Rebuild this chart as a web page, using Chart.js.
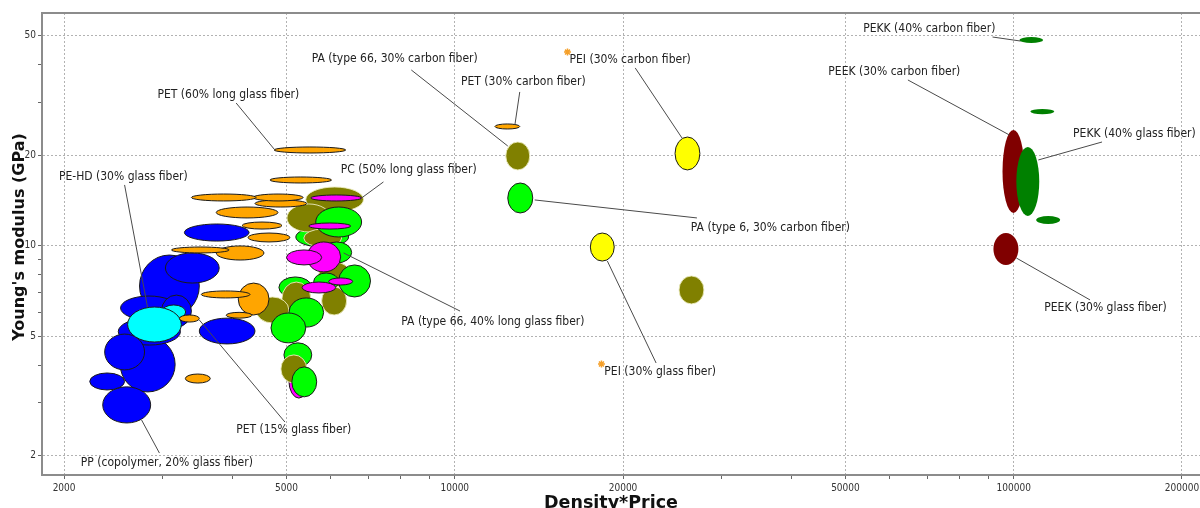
<!DOCTYPE html>
<html>
<head>
<meta charset="utf-8">
<script src="https://cdn.jsdelivr.net/npm/chart.js@4.4.0/dist/chart.umd.min.js"></script>
<style>
  html, body { margin: 0; padding: 0; background: #fff; overflow: hidden; }
  #wrap { position: absolute; left: 0; top: 0; width: 1220px; height: 508px; }
</style>
</head>
<body>
<div id="wrap"><canvas id="chart"></canvas></div>
<script>
// --- Données (chaque bulle : [prix*densité min, max, module min, max]) ---

const blueGroup = [
  [2729, 3491, 5.79, 9.31],
  [2520, 3160, 3.26, 4.97],
  [2500, 3230, 4.67, 5.74],
  [2345, 2857, 2.57, 3.39],
  [2364, 2786, 3.86, 5.08],
  [3491, 4391, 4.71, 5.74],
  [2524, 3190, 5.66, 6.80],
  [3036, 3789, 7.51, 9.46],
  [2987, 3379, 5.36, 6.85],
  [3283, 4285, 10.36, 11.81],
  [2223, 2566, 3.31, 3.77]
];
const cyanGroup = [
  [2990, 3300, 5.70, 6.35],
  [2598, 3242, 4.78, 6.25]
];
const magentaBack = [
  [5049, 5481, 3.11, 4.07]
];
const greenBack = [
  [5195, 6457, 9.90, 11.54],
  [4846, 5548, 6.70, 7.87],
  [4947, 5548, 3.95, 4.75]
];
const oliveGroup = [
  [5413, 6866, 12.95, 15.68],
  [5009, 5995, 11.11, 13.77],
  [5369, 6276, 9.90, 11.36],
  [5710, 6512, 7.29, 8.82],
  [4907, 5525, 5.88, 7.57],
  [5779, 6405, 5.88, 7.29],
  [4410, 5049, 5.53, 6.75],
  [4886, 5435, 3.49, 4.33],
  [12340, 13620, 17.87, 22.14],
  [25190, 27910, 6.40, 7.93]
];
const greenGroup = [
  [5639, 6813, 10.69, 13.45],
  [5779, 6539, 8.76, 10.29],
  [6199, 7067, 6.75, 8.63],
  [5593, 6199, 7.12, 8.11],
  [5049, 5826, 5.36, 6.70],
  [4690, 5413, 4.75, 5.97],
  [5111, 5662, 3.14, 3.95],
  [12440, 13790, 12.85, 16.17]
];
const magentaGroup = [
  [5525, 6813, 14.09, 14.75],
  [5481, 6512, 11.36, 11.90],
  [5435, 6250, 8.18, 10.29],
  [5000, 5779, 8.63, 9.68],
  [5331, 6123, 6.96, 7.57],
  [5949, 6565, 7.40, 7.81]
];
const orangeGroup = [
  [4098, 4652, 5.88, 7.51],
  [3520, 4302, 6.70, 7.07],
  [3900, 4337, 5.74, 6.00],
  [3216, 3491, 5.57, 5.88],
  [3296, 3652, 3.49, 3.74],
  [3743, 4556, 8.96, 9.98],
  [3112, 3948, 9.46, 9.90],
  [4268, 5069, 10.29, 11.02],
  [4164, 4907, 11.36, 11.99],
  [3743, 4827, 12.37, 13.45],
  [4391, 5434, 13.45, 14.20],
  [4355, 5354, 14.09, 14.86],
  [3379, 4409, 14.09, 14.86],
  [4670, 6020, 16.17, 16.93],
  [4750, 6380, 20.35, 21.31],
  [11800, 13070, 24.46, 25.42]
];
const yellowGroup = [
  [24780, 27450, 17.87, 23.0],
  [17480, 19290, 8.89, 11.02]
];
const peekGroup = [
  [95500, 104500, 12.85, 24.28],
  [92000, 101950, 8.63, 11.02]
];
const pekkGroup = [
  [101100, 111100, 12.56, 21.31],
  [102360, 112900, 47.3, 49.5],
  [107100, 118200, 27.4, 28.5],
  [109700, 121100, 11.81, 12.56]
];
const starPoints = [
  [15910, 44.1],
  [18300, 4.04]
];

// Étiquettes : texte, position du texte, début et fin du trait (coordonnées données)
const callouts = [
  ['PET (60% long glass fiber)', [2938, 31.75], [4063, 29.85], [4750, 20.98]],
  ['PE-HD (30% glass fiber)', [1958, 16.93], [2566, 15.93], [2820, 6.25]],
  ['PP (copolymer, 20% glass fiber)', [2143, 1.891], [2962, 2.041], [2752, 2.63]],
  ['PET (15% glass fiber)', [4063, 2.435], [4967, 2.589], [3491, 5.66]],
  ['PC (50% long glass fiber)', [6250, 17.86], [7454, 16.30], [6813, 14.42]],
  ['PA (type 66, 40% long glass fiber)', [8024, 5.57], [10220, 6.06], [6325, 9.46]],
  ['PA (type 66, 30% carbon fiber)', [5548, 41.83], [8360, 38.45], [12440, 21.47]],
  ['PET (30% carbon fiber)', [10260, 35.06], [13070, 32.49], [12810, 25.23]],
  ['PEI (30% carbon fiber)', [16045, 41.52], [21030, 39.05], [25500, 22.83]],
  ['PA (type 6, 30% carbon fiber)', [26450, 11.46], [27120, 12.37], [13900, 14.20]],
  ['PEI (30% glass fiber)', [18520, 3.80], [22920, 4.07], [18750, 8.89]],
  ['PEKK (40% carbon fiber)', [53780, 52.65], [91650, 49.5], [102780, 48.0]],
  ['PEEK (30% carbon fiber)', [46600, 37.86], [64670, 35.61], [98260, 23.36]],
  ['PEKK (40% glass fiber)', [127700, 23.54], [143900, 22.14], [110670, 19.29]],
  ['PEEK (30% glass fiber)', [113430, 6.20], [136950, 6.60], [101100, 9.10]]
];

const xTicks = [2000, 3000, 4000, 5000, 6000, 7000, 8000, 9000, 10000, 20000, 30000, 40000,
  50000, 60000, 70000, 80000, 90000, 100000, 200000];
const xTickLabels = [2000, 5000, 10000, 20000, 50000, 100000, 200000];
const yTicks = [2, 3, 4, 5, 6, 7, 8, 9, 10, 20, 30, 40, 50];
const yTickLabels = [2, 5, 10, 20, 50];

const xTitle = 'Density*Price';
const yTitle = "Young's modulus (GPa)";

// --- Mise en forme ---
const LABEL_FONT = '"DejaVu Sans Condensed", "Liberation Sans", sans-serif';
const TITLE_FONT = '"DejaVu Sans", sans-serif';
const DARK = '#1a1a1a';

function bubbles(rows, fill, stroke) {
  return {
    label: '',
    ranges: true,
    fill: fill,
    stroke: stroke,
    data: rows.map(([x0, x1, y0, y1]) => ({
      x: Math.sqrt(x0 * x1), y: Math.sqrt(y0 * y1), x0, x1, y0, y1
    })),
    pointRadius: 0
  };
}

const datasets = [
  bubbles(blueGroup, '#0000ff', DARK),
  bubbles(cyanGroup, '#00ffff', DARK),
  bubbles(magentaBack, '#ff00ff', DARK),
  bubbles(greenBack, '#00ff00', DARK),
  bubbles(oliveGroup, '#808000', 'rgba(235,235,190,0.9)'),
  bubbles(greenGroup, '#00ff00', DARK),
  bubbles(magentaGroup, '#ff00ff', DARK),
  bubbles(orangeGroup, '#ffa500', DARK),
  bubbles(yellowGroup, '#ffff00', DARK),
  bubbles(peekGroup, '#800000', null),
  bubbles(pekkGroup, '#008000', null),
  {
    label: '',
    data: starPoints.map(([x, y]) => ({x, y})),
    pointStyle: 'star',
    pointRadius: 3.5,
    borderColor: '#f5a02a',
    borderWidth: 1.5,
    backgroundColor: '#f5a02a'
  }
];

// Dessin des ellipses, dans l'ordre des jeux de données
const ellipsePlugin = {
  id: 'ellipses',
  afterDatasetsDraw(chart) {
    const {ctx, chartArea: a, scales: {x, y}} = chart;
    ctx.save();
    ctx.beginPath();
    ctx.rect(a.left, a.top, a.right - a.left, a.bottom - a.top);
    ctx.clip();
    chart.data.datasets.forEach(ds => {
      if (!ds.ranges) return;
      ds.data.forEach(p => {
        const px0 = x.getPixelForValue(p.x0), px1 = x.getPixelForValue(p.x1);
        const py0 = y.getPixelForValue(p.y0), py1 = y.getPixelForValue(p.y1);
        ctx.beginPath();
        ctx.ellipse((px0 + px1) / 2, (py0 + py1) / 2, Math.abs(px1 - px0) / 2, Math.abs(py1 - py0) / 2, 0, 0, Math.PI * 2);
        ctx.fillStyle = ds.fill;
        ctx.fill();
        if (ds.stroke) {
          ctx.lineWidth = 1;
          ctx.strokeStyle = ds.stroke;
          ctx.stroke();
        }
      });
    });
    ctx.restore();
  }
};

// Étiquettes avec traits de rappel
const calloutPlugin = {
  id: 'callouts',
  afterDatasetsDraw(chart) {
    const {ctx, scales: {x, y}} = chart;
    const pt = v => [x.getPixelForValue(v[0]), y.getPixelForValue(v[1])];
    ctx.save();
    ctx.strokeStyle = '#4a4a4a';
    ctx.lineWidth = 1;
    callouts.forEach(([, , from, to]) => {
      const a = pt(from), b = pt(to);
      ctx.beginPath();
      ctx.moveTo(a[0], a[1]);
      ctx.lineTo(b[0], b[1]);
      ctx.stroke();
    });
    ctx.font = '12px ' + LABEL_FONT;
    ctx.fillStyle = '#222';
    ctx.textBaseline = 'middle';
    ctx.textAlign = 'left';
    callouts.forEach(([text, at]) => {
      const p = pt(at);
      ctx.fillText(text, p[0], p[1]);
    });
    ctx.restore();
  }
};

// Titres des axes
const titlePlugin = {
  id: 'axisTitles',
  afterDraw(chart) {
    const {ctx} = chart;
    ctx.save();
    ctx.fillStyle = '#111';
    ctx.textAlign = 'center';
    ctx.textBaseline = 'alphabetic';
    ctx.font = 'bold 17.5px ' + TITLE_FONT;
    ctx.fillText(xTitle, 611, 508);
    ctx.font = 'bold 16px ' + TITLE_FONT;
    ctx.translate(24, 237);
    ctx.rotate(-Math.PI / 2);
    ctx.fillText(yTitle, 0, 0);
    ctx.restore();
  }
};

const gridColor = labels => c => (c.tick && labels.includes(c.tick.value)) ? '#b2b2b2' : 'rgba(0,0,0,0)';

new Chart(document.getElementById('chart'), {
  type: 'scatter',
  data: {datasets},
  options: {
    responsive: true,
    maintainAspectRatio: false,
    animation: false,
    events: [],
    layout: {padding: {top: 13, left: 0, right: 0, bottom: 0}},
    plugins: {legend: {display: false}, tooltip: {enabled: false}},
    scales: {
      x: {
        type: 'logarithmic',
        min: 1826,
        max: 228700,
        afterBuildTicks: s => { s.ticks = xTicks.map(v => ({value: v})); },
        afterFit: s => { s.height = 33; },
        ticks: {
          autoSkip: false, maxRotation: 0, minRotation: 0, padding: 3,
          color: '#333', font: {family: LABEL_FONT, size: 10},
          callback: v => xTickLabels.includes(v) ? String(v) : ''
        },
        grid: {color: gridColor(xTickLabels), lineWidth: 1, tickLength: 4, tickColor: '#666', tickBorderDash: []},
        border: {display: true, color: '#8c8c8c', width: 2, dash: [2, 2]}
      },
      xTop: {
        type: 'logarithmic',
        position: 'top',
        min: 1826,
        max: 228700,
        afterFit: s => { s.height = 0; },
        ticks: {display: false},
        grid: {display: false},
        border: {display: true, color: '#8c8c8c', width: 2}
      },
      y: {
        type: 'logarithmic',
        min: 1.725,
        max: 59.5,
        afterBuildTicks: s => { s.ticks = yTicks.map(v => ({value: v})); },
        afterFit: s => { s.width = 42; },
        ticks: {
          autoSkip: false, padding: 2,
          color: '#333', font: {family: LABEL_FONT, size: 10},
          callback: v => yTickLabels.includes(v) ? String(v) : ''
        },
        grid: {color: gridColor(yTickLabels), lineWidth: 1, tickLength: 4, tickColor: '#666', tickBorderDash: []},
        border: {display: true, color: '#8c8c8c', width: 2, dash: [2, 2]}
      }
    }
  },
  plugins: [ellipsePlugin, calloutPlugin, titlePlugin]
});
</script>
</body>
</html>
